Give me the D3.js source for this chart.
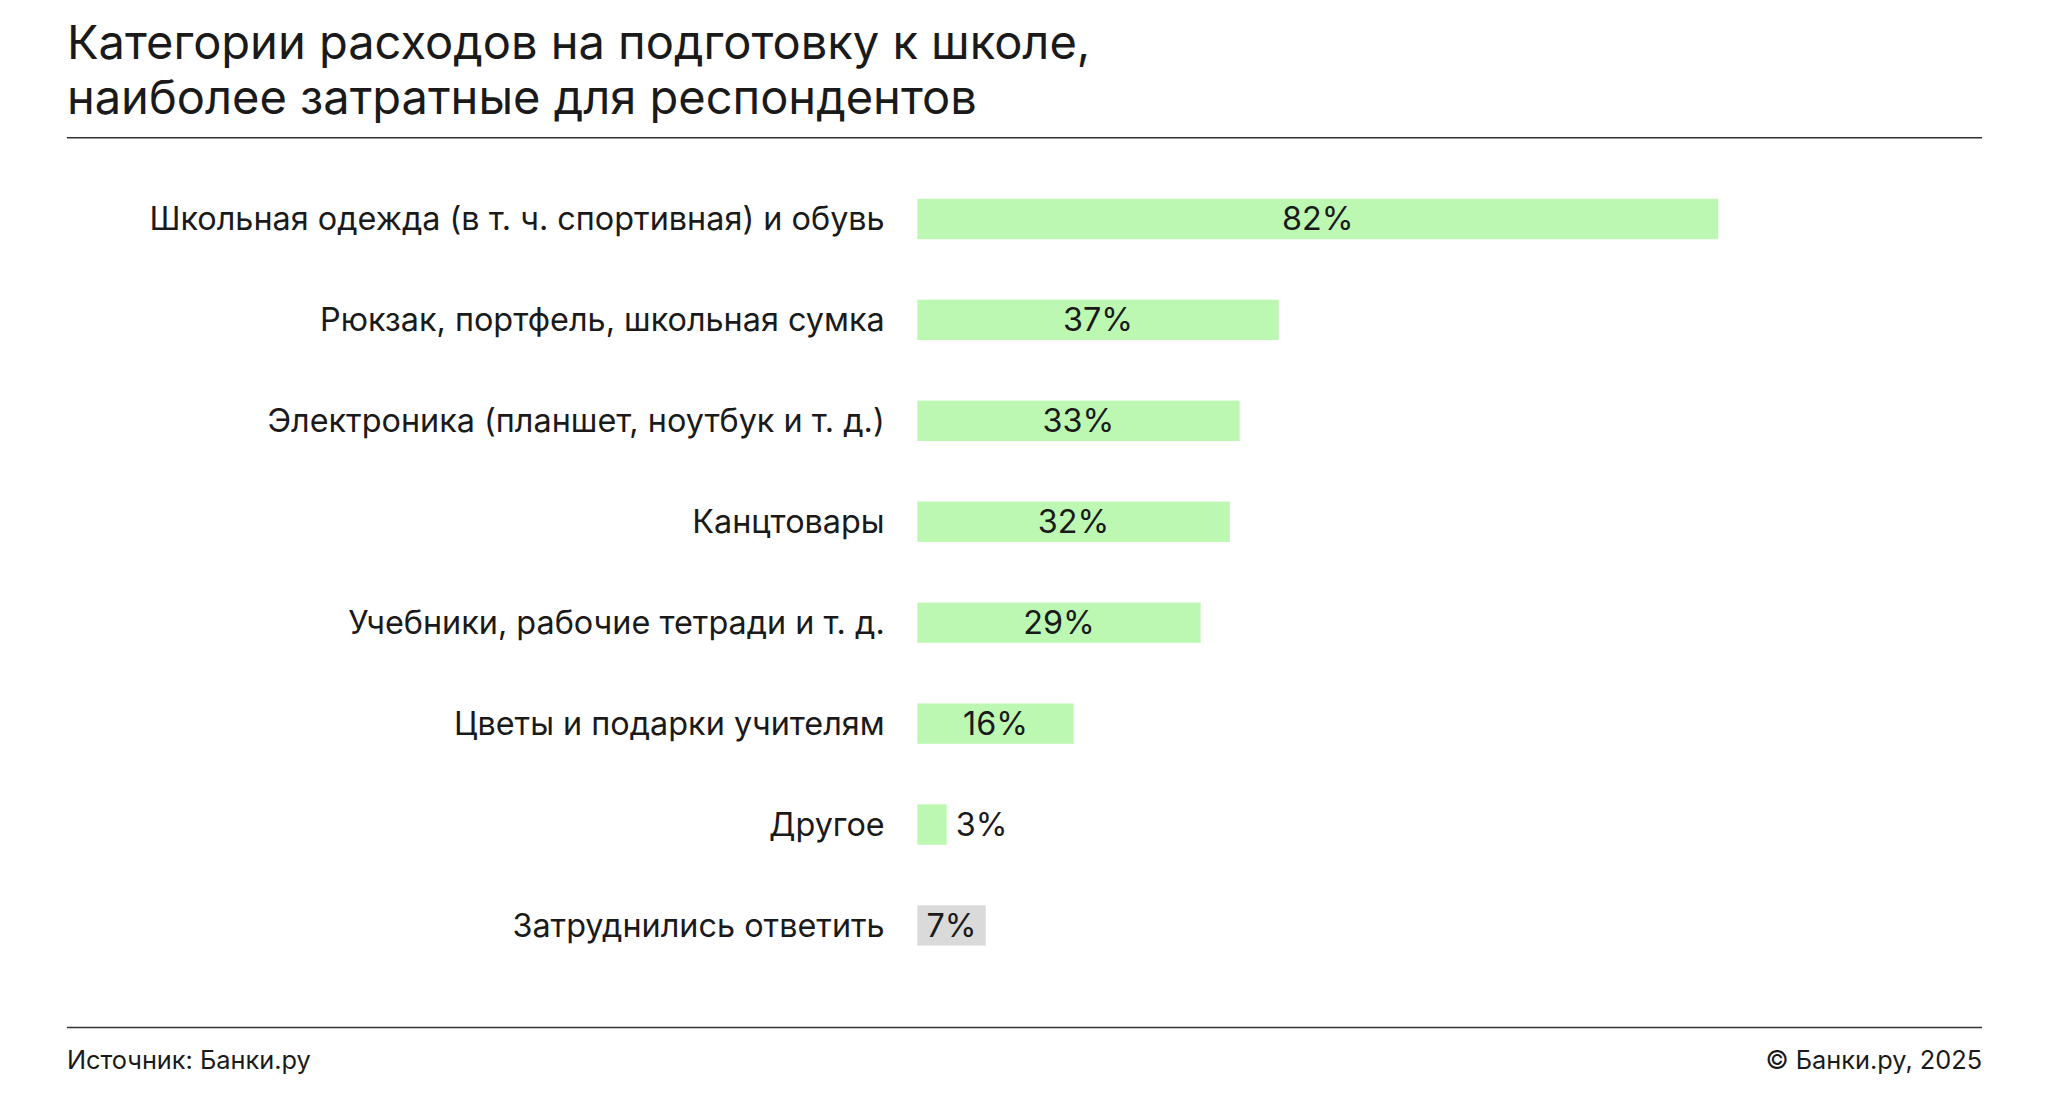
<!DOCTYPE html>
<html><head><meta charset="utf-8">
<script src="https://cdn.jsdelivr.net/npm/d3@7"></script>
<style>body{margin:0;background:#fff}svg{display:block}text{font-family:Inter,Roboto,sans-serif}</style>
</head><body><svg id="c" width="2049" height="1100" viewBox="0 0 1568 842"></svg>
<script>
const categories=["Школьная одежда (в т. ч. спортивная) и обувь","Рюкзак, портфель, школьная сумка","Электроника (планшет, ноутбук и т. д.)","Канцтовары","Учебники, рабочие тетради и т. д.","Цветы и подарки учителям","Другое","Затруднились ответить"];
const values=[82,37,33,32,29,16,3,7];
const colors=["#bdf8b3","#bdf8b3","#bdf8b3","#bdf8b3","#bdf8b3","#bdf8b3","#bdf8b3","#dadada"];
const svg=d3.select("#c");
svg.append("text").attr("x",51).attr("y",45).attr("font-size",36).attr("fill","#1a1a1a").text("Категории расходов на подготовку к школе,");
svg.append("text").attr("x",51).attr("y",87).attr("font-size",36).attr("fill","#1a1a1a").text("наиболее затратные для респондентов");
svg.append("line").attr("x1",51).attr("x2",1517).attr("y1",105.5).attr("y2",105.5).attr("stroke","#333").attr("stroke-width",1.2);
svg.append("line").attr("x1",51).attr("x2",1517).attr("y1",786.5).attr("y2",786.5).attr("stroke","#333").attr("stroke-width",1.2);
svg.append("text").attr("x",51).attr("y",818).attr("font-size",19.4).attr("fill","#1a1a1a").text("Источник: Банки.ру");
svg.append("text").attr("x",1517).attr("y",818).attr("text-anchor","end").attr("font-size",19.4).attr("fill","#1a1a1a").text("© Банки.ру, 2025");
const x=d3.scaleLinear().domain([0,82]).range([702,1315]);
const y=d3.scaleBand().domain(categories).range([129,747]).paddingInner(0.6).paddingOuter(0.3);
const g=svg.append("g");
categories.forEach((c,i)=>{
  const v=values[i], yy=y(c), h=y.bandwidth();
  g.append("rect").attr("x",x(0)).attr("y",yy).attr("width",x(v)-x(0)).attr("height",h).attr("fill",colors[i]);
  g.append("text").attr("x",677).attr("y",yy+h/2).attr("dy","0.35em").attr("text-anchor","end").attr("font-size",24.8).attr("fill","#1a1a1a").text(c);
  const inside=v>=5;
  g.append("text").attr("x",inside?(x(0)+x(v))/2:x(v)+7).attr("y",yy+h/2).attr("dy","0.35em").attr("text-anchor",inside?"middle":"start").attr("font-size",24.8).attr("fill","#1a1a1a").text(v+"%");
});
</script></body></html>
